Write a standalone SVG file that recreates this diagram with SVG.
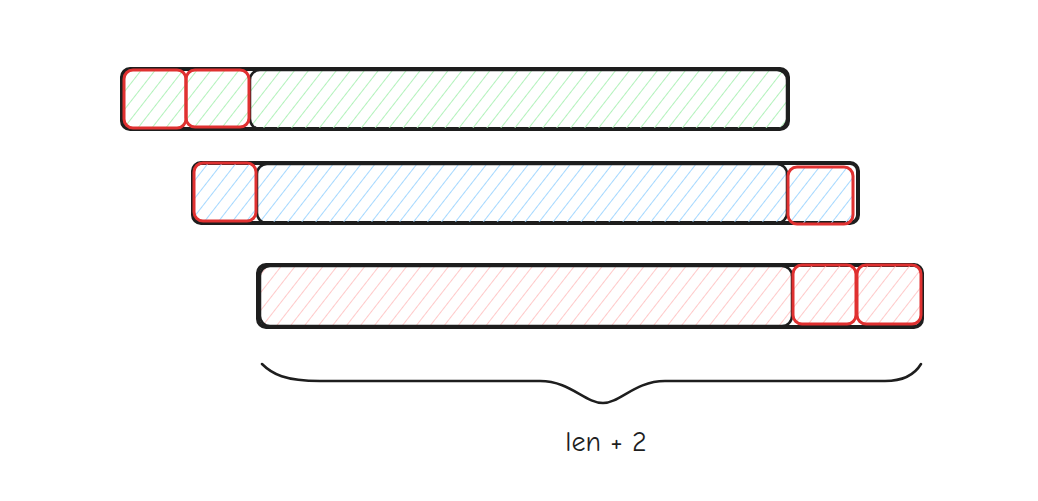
<svg xmlns="http://www.w3.org/2000/svg" width="1038" height="501" viewBox="0 0 1038 501">
<defs>
<pattern id="hg" width="11" height="11" patternUnits="userSpaceOnUse" patternTransform="rotate(38)"><line x1="0" y1="0" x2="0" y2="11" stroke="#b2f2bb" stroke-width="2"/></pattern>
<pattern id="hb" width="11" height="11" patternUnits="userSpaceOnUse" patternTransform="rotate(38)"><line x1="0" y1="0" x2="0" y2="11" stroke="#a5d8ff" stroke-width="2"/></pattern>
<pattern id="hr" width="11" height="11" patternUnits="userSpaceOnUse" patternTransform="rotate(38)"><line x1="0" y1="0" x2="0" y2="11" stroke="#ffc9c9" stroke-width="2"/></pattern>
</defs>
<style>
.outer{fill:none;stroke:#1e1e1e;stroke-width:4}
.inner{stroke:#1e1e1e;stroke-width:2.5}
.red{fill:none;stroke:#e03131;stroke-width:3}
.g{fill:url(#hg)}.b{fill:url(#hb)}.p{fill:url(#hr)}
.lbl{font-family:"Comic Neue","Liberation Sans",sans-serif;font-size:28px;fill:#1e1e1e}
</style>
<rect width="1038" height="501" fill="#ffffff"/>
<g id="row1">
<rect x="122" y="69" width="666" height="60" rx="8" class="outer"/>
<rect x="124" y="71" width="62" height="57" rx="8" class="g"/>
<rect x="186" y="71" width="63" height="57" rx="8" class="g"/>
<rect x="250" y="70" width="537" height="59" rx="10" class="g inner"/>
<rect x="124" y="70" width="62" height="58" rx="9" class="red"/>
<rect x="186" y="70" width="63" height="57" rx="9" class="red"/>
</g>
<g id="row2">
<rect x="193" y="163" width="665" height="60" rx="8" class="outer"/>
<rect x="194" y="164" width="62" height="57" rx="8" class="b"/>
<rect x="257" y="164" width="530" height="59" rx="10" class="b inner"/>
<rect x="788" y="167" width="65" height="57" rx="8" class="b"/>
<rect x="194" y="163" width="62" height="58" rx="9" class="red"/>
<rect x="788" y="167" width="65" height="57" rx="9" class="red"/>
</g>
<g id="row3">
<rect x="258" y="265" width="664" height="62" rx="8" class="outer"/>
<rect x="260" y="266" width="532" height="60" rx="10" class="p inner"/>
<rect x="793" y="265" width="63" height="59" rx="8" class="p"/>
<rect x="857" y="265" width="64" height="59" rx="8" class="p"/>
<rect x="793" y="265" width="63" height="59" rx="9" class="red"/>
<rect x="857" y="265" width="64" height="59" rx="9" class="red"/>
</g>
<g id="connectors">
<path d="M262 364 C272 374 285 381 320 381 L540 381 C570 381 585 403 603 403 C620 403 635 381 665 381 L885 381 C905 381 915 374 921 364" fill="none" stroke="#1e1e1e" stroke-width="2.5" stroke-linecap="round"/>
</g>
<g id="label">
<text x="606" y="451" text-anchor="middle" class="lbl">len + 2</text>
</g>
</svg>
